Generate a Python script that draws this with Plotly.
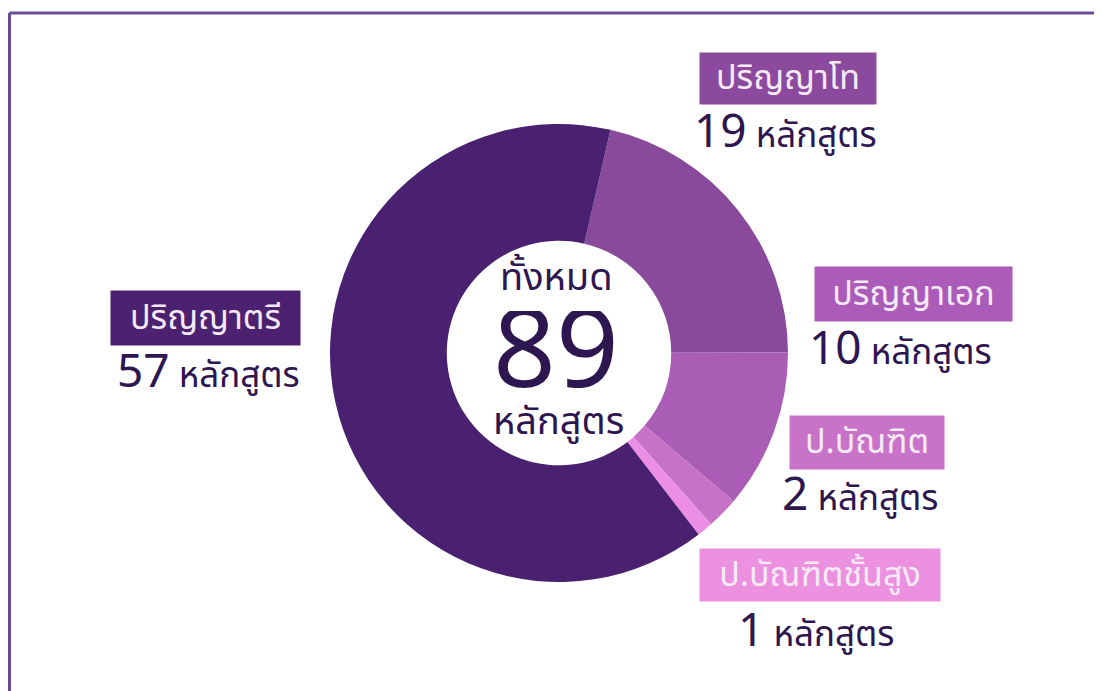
import plotly.graph_objects as go

# Data
labels = ["ปริญญาโท", "ปริญญาเอก", "ป.บัณฑิต", "ป.บัณฑิตชั้นสูง", "ปริญญาตรี"]
values = [19, 10, 2, 1, 57]
unit = "หลักสูตร"
center_title = "ทั้งหมด"

slice_colors = ["#8a4a9c", "#a95db5", "#c672c6", "#ec8ee4", "#4a2170"]
box_colors = ["#8b4a9e", "#ab5cb8", "#c872c8", "#ec90e0", "#4b2170"]

W, H = 1102, 691
OX, OY = 8, 7  # page offset compensation
FONT = "Noto Sans Thai, Noto Sans, sans-serif"
DARK = "#2e1650"


def px(x):
    return (x - OX) / W


def py(y):
    return 1 - (y - OY) / H


fig = go.Figure()
fig.add_trace(go.Pie(
    labels=labels, values=values, sort=False, direction="clockwise",
    rotation=13, hole=0.49,
    marker=dict(colors=slice_colors, line=dict(width=0)),
    textinfo="none", hoverinfo="label+value", showlegend=False,
    domain=dict(x=[px(330), px(788)], y=[py(581), py(123)]),
))

# label box positions (center x, center y, width, height) and count positions
box_pos = [(788, 77, 176, 51), (913, 293, 197, 54), (867, 441, 154, 53), (820, 574, 240, 52), (205, 317, 189, 54)]
count_pos = [(785, 132), (900, 349), (860, 495), (816, 631), (208, 372)]

for lab, val, col, (bx, by, bw, bh), (cx, cy) in zip(labels, values, box_colors, box_pos, count_pos):
    fig.add_annotation(
        x=px(bx), y=py(by), xref="paper", yref="paper", xanchor="center", yanchor="middle",
        text=lab, showarrow=False, bgcolor=col, width=bw, height=bh, borderpad=0,
        font=dict(family=FONT, size=34, color="#f6eaf6"),
    )
    fig.add_annotation(
        x=px(cx), y=py(cy), xref="paper", yref="paper", xanchor="center", yanchor="middle",
        text=f"<span style='font-size:46px'>{val}</span> {unit}", showarrow=False,
        font=dict(family=FONT, size=35, color=DARK),
    )

# centre text
fig.add_annotation(x=px(556), y=py(277), xref="paper", yref="paper", text=center_title,
                   showarrow=False, font=dict(family=FONT, size=38, color=DARK))
fig.add_annotation(x=px(556), y=py(352), xref="paper", yref="paper", text=str(sum(values)),
                   showarrow=False, height=84, font=dict(family=FONT, size=110, color=DARK))
fig.add_annotation(x=px(558), y=py(421), xref="paper", yref="paper", text=unit,
                   showarrow=False, font=dict(family=FONT, size=38, color=DARK))

# frame lines
fig.add_shape(type="line", xref="paper", yref="paper", x0=1.5 / W, x1=1, y0=py(12), y1=py(12),
              line=dict(color="#6a4a90", width=3))
fig.add_shape(type="line", xref="paper", yref="paper", x0=1.5 / W, x1=1.5 / W, y0=py(12), y1=0,
              line=dict(color="#6a4a90", width=3))

fig.update_layout(width=W, height=H, margin=dict(l=0, r=0, t=0, b=0),
                  paper_bgcolor="white", plot_bgcolor="white")
fig.write_html("out.html")
